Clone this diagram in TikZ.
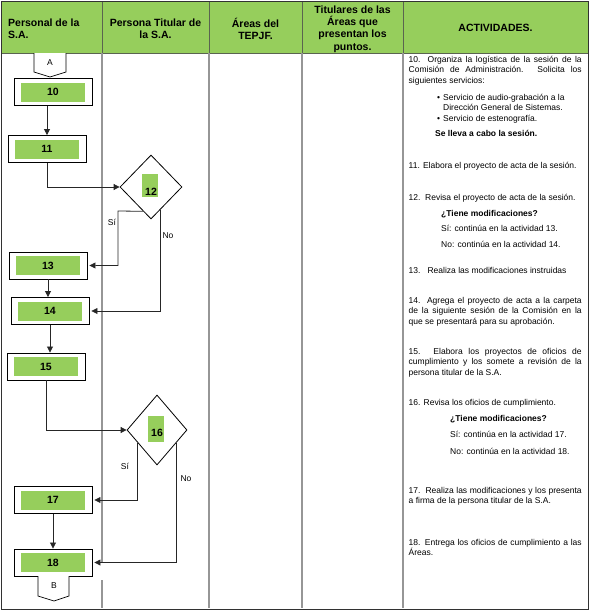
\documentclass[tikz,border=0pt]{standalone}
\usepackage{fontspec}
\setmainfont{Liberation Sans}
\usetikzlibrary{shapes.geometric,arrows.meta,calc}
\definecolor{hdrgreen}{RGB}{150,206,92}
\definecolor{boxgreen}{RGB}{150,206,92}
\definecolor{lanegray}{RGB}{150,150,150}
\definecolor{hdrline}{RGB}{90,100,80}
\definecolor{framegray}{RGB}{50,50,50}
\newlength{\actw}
\setlength{\actw}{173pt}
\newcommand{\jline}[1]{\makebox[\actw][s]{#1}}
\begin{document}
\begin{tikzpicture}[x=1pt,y=-1pt,
  hdr/.style={font=\fontsize{10.5}{12.3}\selectfont\bfseries, align=center, inner sep=0},
  proc/.style={draw=black, line width=0.9pt, fill=white, minimum width=78pt, minimum height=27pt, inner sep=0,
     path picture={\fill[boxgreen] ([xshift=7pt,yshift=4pt]path picture bounding box.south west) rectangle ([xshift=-7pt,yshift=-4pt]path picture bounding box.north east);},
     font=\fontsize{10.5}{12}\selectfont\bfseries},
  dec/.style={diamond, draw=black, line width=0.8pt, fill=white, inner sep=0},
  gbox/.style={fill=boxgreen, inner sep=0, minimum width=16pt},
  num/.style={font=\fontsize{10.5}{12}\selectfont\bfseries, inner sep=0},
  flow/.style={draw=black!85, line width=0.8pt},
  arr/.style={flow, -{Triangle[length=6pt,width=6pt]}},
  lane/.style={draw=lanegray, line width=1.4pt},
  lbl/.style={font=\fontsize{8.5}{10}\selectfont, inner sep=0},
  act/.style={anchor=base west, inner sep=0, align=left, font=\fontsize{8.5}{10.3}\selectfont},
  conn/.style={draw=black, line width=0.7pt, fill=white}
]
\useasboundingbox (0,0) rectangle (590,613);
% header
\fill[hdrgreen] (1,1) rectangle (588,53);
\foreach \x in {102,209,302,403} \draw[draw=hdrline, line width=1pt] (\x,1) -- (\x,53);
\draw[draw=hdrline, line width=1pt] (1,1) rectangle (588,53);
% lanes
\draw[lane] (102,53) -- (102,562);
\draw[lane] (102,580) -- (102,608);
\foreach \x in {209,302,403} \draw[lane] (\x,53) -- (\x,608);
\draw[draw=framegray, line width=1pt] (1,1) rectangle (588,609);
% header texts
\node[hdr, anchor=west, align=left] (h1) at (8,29) {Personal de la\\S.A.};
\node[hdr] (h2) at (155.5,29) {Persona Titular de\\la S.A.};
\node[hdr] (h3) at (255.5,29) {Áreas del\\TEPJF.};
\node[hdr] (h4) at (352.5,29) {Titulares de las\\Áreas que\\presentan los\\puntos.};
\node[hdr] (h5) at (495.5,28) {ACTIVIDADES.};
% connector A
\draw[conn] (34,53) -- (34,72) -- (50,77) -- (66,72) -- (66,53);
\node[lbl] (offA) at (50,63) {A};
% process boxes
\node[proc] (b10) at (53,92) {10};
\node[proc] (b11) at (47,149) {11};
\node[proc] (b13) at (48,265.5) {13};
\node[proc] (b14) at (50,311) {14};
\node[proc] (b15) at (46,366.5) {15};
\node[proc] (b17) at (53,500) {17};
\node[proc] (b18) at (53,562.5) {18};
% decisions
\node[dec, minimum width=62pt, minimum height=64pt] (d12) at (151,187) {};
\node[gbox, minimum height=23pt] (g12) at (150,185.5) {};
\node[num] (t12) at (151,192) {12};
\node[dec, minimum width=60pt, minimum height=70pt] (d16) at (157,430) {};
\node[gbox, minimum height=26pt] (g16) at (156,429) {};
\node[num] (t16) at (157,433) {16};
% connector B
\draw[conn] (38,576) -- (38,596) -- (54,601) -- (69,596) -- (69,576);
\node[lbl] (offB) at (54,586) {B};
% edge points
\coordinate (e12s) at ($(d12.west)!0.75!(d12.south)$);
\coordinate (e12n) at ($(d12.south)!0.29!(d12.east)$);
\coordinate (s12) at (118,211);
\coordinate (e16s) at ($(d16.west)!0.37!(d16.south)$);
\coordinate (e16n) at ($(d16.south)!0.63!(d16.east)$);
% connectors
\draw[arr] (b10.south -| b11.north) -- (b11.north);
\draw[arr] (b11.south) |- (d12.west);
\draw[arr, shorten >=2pt] (e12s) -- (s12) |- (b13.east);
\draw[arr, shorten >=2pt] (e12n) |- (b14.east);
\draw[arr] (b13.south) -- (b13.south |- b14.north);
\draw[arr] (b14.south) -- (b14.south |- b15.north);
\draw[arr] (b15.south) |- (d16.west);
\draw[arr, shorten >=2pt] (e16s) |- (b17.east);
\draw[arr, shorten >=2pt] (e16n) |- (b18.east);
\draw[arr] (b17.south) -- (b17.south |- b18.north);
% branch labels
\node[lbl] (si12) at (112,222) {Sí};
\node[lbl] (no12) at (168,236) {No};
\node[lbl] (si16) at (125,466) {Sí};
\node[lbl] (no16) at (186,479) {No};
% activities (base anchor = baseline of the last line)
\node[act] (p10) at (408.5,83.1) {\jline{10.\ \ Organiza la logística de la sesión de la}\\\jline{Comisión de Administración. Solicita los}\\siguientes servicios:};
\node[act] (p10a) at (437,110.3) {\makebox[6pt][l]{•}Servicio de audio-grabación a la\\\hspace*{6pt}Dirección General de Sistemas.};
\node[act] (p10b) at (437,121) {\makebox[6pt][l]{•}Servicio de estenografía.};
\node[act, font=\fontsize{8.5}{10.3}\selectfont\bfseries] (p10c) at (435,136) {Se lleva a cabo la sesión.};
\node[act] (p11) at (408.5,168) {11. Elabora el proyecto de acta de la sesión.};
\node[act] (p12) at (408.5,200) {12.\ \ Revisa el proyecto de acta de la sesión.};
\node[act, font=\fontsize{8.5}{10.3}\selectfont\bfseries] (q12) at (441,216) {¿Tiene modificaciones?};
\node[act] (s12t) at (441,231) {Sí: continúa en la actividad 13.};
\node[act] (n12t) at (441,247) {No: continúa en la actividad 14.};
\node[act] (p13) at (408.5,273) {13.\ \ \ Realiza las modificaciones instruidas};
\node[act, font=\fontsize{8.5}{10.8}\selectfont] (p14) at (408.5,324.6) {\jline{14.\ \ Agrega el proyecto de acta a la carpeta}\\\jline{de la siguiente sesión de la Comisión en la}\\que se presentará para su aprobación.};
\node[act, font=\fontsize{8.5}{10.8}\selectfont] (p15) at (408.5,375.6) {\jline{15. Elabora los proyectos de oficios de}\\\jline{cumplimiento y los somete a revisión de la}\\persona titular de la S.A.};
\node[act] (p16) at (408.5,405) {16. Revisa los oficios de cumplimiento.};
\node[act, font=\fontsize{8.5}{10.3}\selectfont\bfseries] (q16) at (450,421) {¿Tiene modificaciones?};
\node[act] (s16t) at (450,437) {Sí: continúa en la actividad 17.};
\node[act] (n16t) at (450,454) {No: continúa en la actividad 18.};
\node[act, font=\fontsize{8.5}{10.8}\selectfont] (p17) at (408.5,503.8) {\jline{17.\ \ Realiza las modificaciones y los presenta}\\a firma de la persona titular de la S.A.};
\node[act] (p18) at (408.5,555.3) {\jline{18. Entrega los oficios de cumplimiento a las}\\Áreas.};
\end{tikzpicture}
\end{document}
